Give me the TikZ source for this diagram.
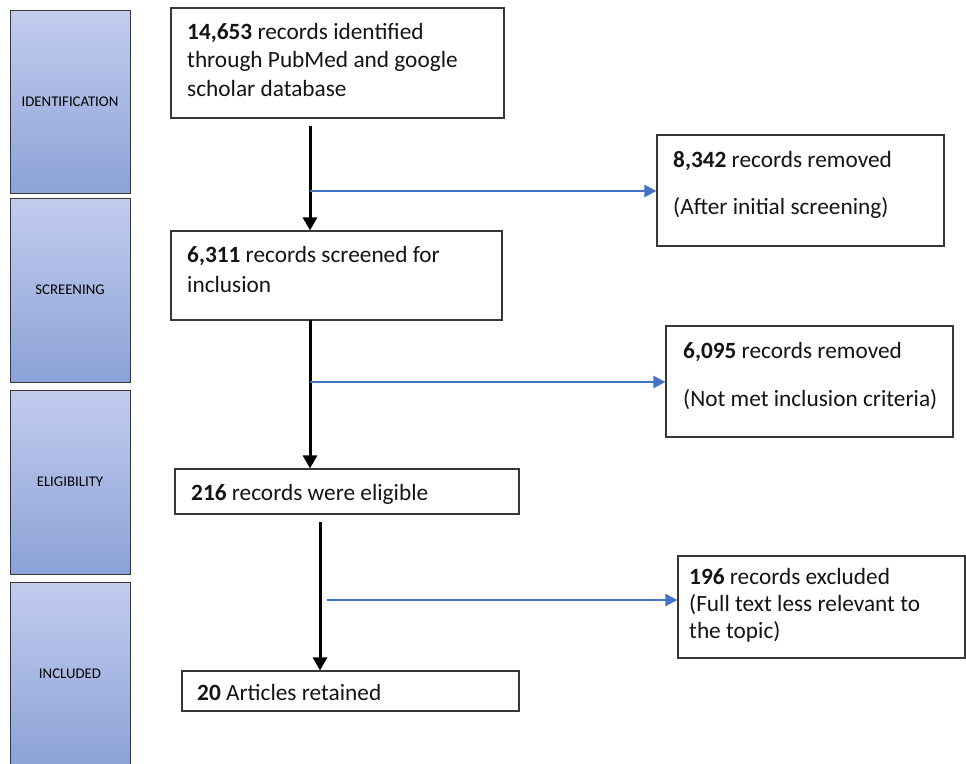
\documentclass[tikz,border=0pt]{standalone}
\usepackage{fontspec}
\setmainfont{Carlito}
\usetikzlibrary{arrows.meta,calc}
\definecolor{blueline}{RGB}{68,114,196}
\definecolor{stagetop}{RGB}{194,204,238}
\definecolor{stagebot}{RGB}{140,163,215}
\definecolor{framecol}{RGB}{55,55,55}
\definecolor{txtcol}{RGB}{20,20,20}
\begin{document}
\begin{tikzpicture}[x=1pt,y=-1pt,
  stage/.style={draw=framecol, line width=0.9pt, top color=stagetop, bottom color=stagebot,
    minimum width=120pt, inner sep=0pt, font=\fontsize{14.8}{16}\selectfont, text=black},
  boxnode/.style={draw=framecol, line width=1.2pt, inner sep=0pt, fill=white},
  txt/.style={anchor=base west, inner sep=0pt, font=\fontsize{23.3}{28}\selectfont, text=txtcol},
  blackarrow/.style={draw=black, line width=3pt, -{Triangle[length=13pt,width=14pt]}},
  bluearrow/.style={draw=blueline, line width=2.4pt, -{Triangle[length=12pt,width=12pt]}}
]
\clip (0,0) rectangle (966,763);
\fill[white] (0,0) rectangle (966,763);

% stage column
\node[stage, minimum height=183pt] (s1) at (70,101.5) {IDENTIFICATION};
\node[stage, minimum height=184pt] (s2) at (70,290) {SCREENING};
\node[stage, minimum height=184pt] (s3) at (70,482) {ELIGIBILITY};
\node[stage, minimum height=184pt] (s4) at (70,674) {INCLUDED};

% main boxes
\node[boxnode, minimum width=333pt, minimum height=110pt] (b1) at (337.5,63) {};
\node[boxnode, minimum width=331pt, minimum height=89pt] (b2) at (336.5,275.5) {};
\node[boxnode, minimum width=344pt, minimum height=45pt] (b3) at (347,491.5) {};
\node[boxnode, minimum width=337pt, minimum height=40pt] (b4) at (350.5,691) {};

% side boxes
\node[boxnode, minimum width=287pt, minimum height=111pt] (r1) at (800.5,190.5) {};
\node[boxnode, minimum width=287pt, minimum height=111pt] (r2) at (809.5,381.5) {};
\node[boxnode, minimum width=287pt, minimum height=102pt] (r3) at (821.5,607) {};

% texts
\node[txt] (t1a) at (187,39) {\textbf{14,653} records identified};
\node[txt] (t1b) at (187,67.5) {through PubMed and google};
\node[txt] (t1c) at (187,96) {scholar database};

\node[txt] (t2a) at (187,262) {\textbf{6,311} records screened for};
\node[txt] (t2b) at (187,292) {inclusion};

\node[txt] (t3a) at (191,500) {\textbf{216} records were eligible};
\node[txt] (t4a) at (197,700) {\textbf{20} Articles retained};

\node[txt] (u1a) at (673,167) {\textbf{8,342} records removed};
\node[txt] (u1b) at (673,214) {(After initial screening)};

\node[txt] (u2a) at (683,358) {\textbf{6,095} records removed};
\node[txt] (u2b) at (683,406) {(Not met inclusion criteria)};

\node[txt] (u3a) at (689,584) {\textbf{196} records excluded};
\node[txt] (u3b) at (689,611) {(Full text less relevant to};
\node[txt] (u3c) at (689,638) {the topic)};

% black arrows
\coordinate (a1s) at (310,126);
\draw[blackarrow] (a1s) -- (a1s |- b2.north);
\coordinate (a2s) at (310,320);
\draw[blackarrow] (a2s) -- (a2s |- b3.north);
\coordinate (a3s) at (320,522);
\draw[blackarrow] (a3s) -- (a3s |- b4.north);

% blue arrows
\coordinate (c1) at (310,191);
\draw[bluearrow] (c1) -- (c1 -| r1.west);
\coordinate (c2) at (310,382);
\draw[bluearrow] (c2) -- (c2 -| r2.west);
\coordinate (c3) at (327,600);
\draw[bluearrow] (c3) -- (c3 -| r3.west);
\end{tikzpicture}
\end{document}
